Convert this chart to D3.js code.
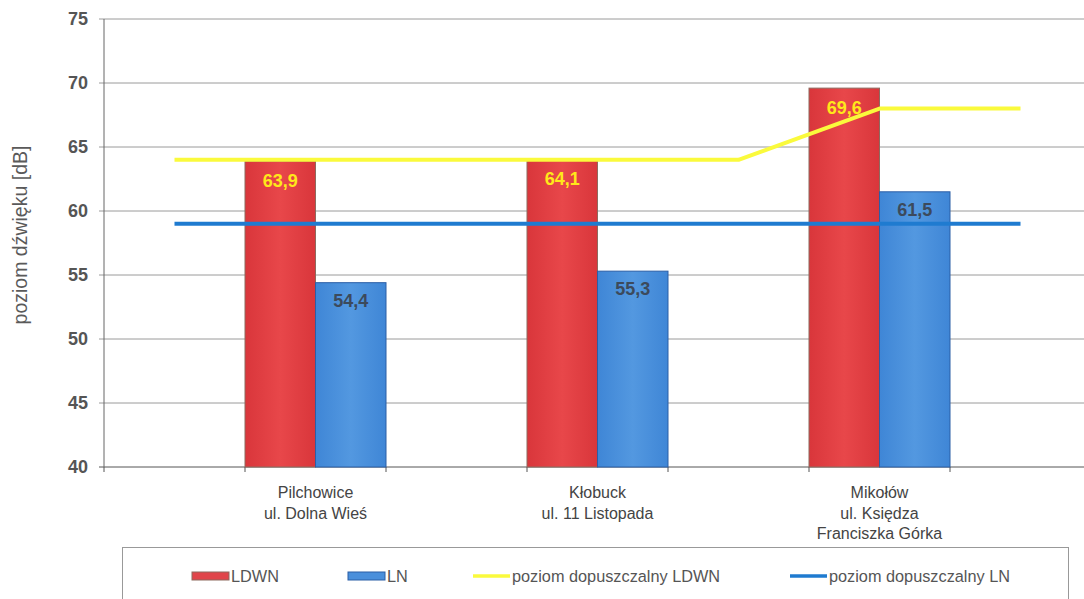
<!DOCTYPE html>
<html>
<head>
<meta charset="utf-8">
<script src="https://cdn.jsdelivr.net/npm/d3@7"></script>
<style>
  html, body { margin: 0; padding: 0; background: #fff; }
  svg { display: block; font-family: "Liberation Sans", Arial, sans-serif; }
</style>
</head>
<body>
<div id="chart"></div>
<script>
// Slots on the category axis (empty slots sit between the sites)
const categories = ['', 'Pilchowice\nul. Dolna Wieś', '', 'Kłobuck\nul. 11 Listopada', '', 'Mikołów\nul. Księdza\nFranciszka Górka', ''];
const ldwnValues = [null, 63.9, null, 64.1, null, 69.6, null];
const lnValues = [null, 54.4, null, 55.3, null, 61.5, null];
const limitLdwn = [64, 64, 64, 64, 64, 68, 68];
const limitLn = [59, 59, 59, 59, 59, 59, 59];
const yTicks = [40, 45, 50, 55, 60, 65, 70, 75];
const legendLabels = ['LDWN', 'LN', 'poziom dopuszczalny LDWN', 'poziom dopuszczalny LN'];

const width = 1084;
const height = 599;
const margin = { left: 104, top: 19, bottom: 467, right: 1091 };

const fmt = d3.formatLocale({ decimal: ',', thousands: ' ', grouping: [3], currency: ['', ' zł'] }).format('.1f');

const svg = d3.select('#chart').append('svg')
  .attr('width', width)
  .attr('height', height);

const defs = svg.append('defs');
const redGrad = defs.append('linearGradient').attr('id', 'redGrad');
redGrad.append('stop').attr('offset', '0%').attr('stop-color', '#d9363b');
redGrad.append('stop').attr('offset', '50%').attr('stop-color', '#e8474a');
redGrad.append('stop').attr('offset', '100%').attr('stop-color', '#d9363b');
const blueGrad = defs.append('linearGradient').attr('id', 'blueGrad');
blueGrad.append('stop').attr('offset', '0%').attr('stop-color', '#3f86d6');
blueGrad.append('stop').attr('offset', '50%').attr('stop-color', '#5398e0');
blueGrad.append('stop').attr('offset', '100%').attr('stop-color', '#3f86d6');

const x = d3.scaleBand()
  .domain(d3.range(categories.length))
  .range([margin.left, margin.right])
  .padding(0);

const y = d3.scaleLinear()
  .domain([40, 75])
  .range([margin.bottom, margin.top]);

const bw = x.bandwidth() / 2;

// Gridlines
svg.append('g')
  .selectAll('line')
  .data(yTicks)
  .join('line')
  .attr('x1', margin.left - 5)
  .attr('x2', margin.right)
  .attr('y1', d => y(d))
  .attr('y2', d => y(d))
  .attr('stroke', d => d === 40 ? '#555' : '#9a9a9a')
  .attr('stroke-width', 1);

// Y axis line
svg.append('line')
  .attr('x1', margin.left).attr('x2', margin.left)
  .attr('y1', margin.top).attr('y2', margin.bottom)
  .attr('stroke', '#666');

// Y tick labels
svg.append('g')
  .selectAll('text')
  .data(yTicks)
  .join('text')
  .attr('x', 88)
  .attr('y', d => y(d) + 6)
  .attr('text-anchor', 'end')
  .attr('font-size', 18)
  .attr('font-weight', 'bold')
  .attr('fill', '#555')
  .text(d => d);

// Y axis title
svg.append('text')
  .attr('transform', `translate(27,${(margin.top + margin.bottom) / 2 - 8}) rotate(-90)`)
  .attr('text-anchor', 'middle')
  .attr('font-size', 19.5)
  .attr('fill', '#5a5a5a')
  .text('poziom dźwięku [dB]');

// X tick marks at slot boundaries
svg.append('g')
  .selectAll('line')
  .data(d3.range(categories.length + 1))
  .join('line')
  .attr('x1', i => margin.left + i * x.bandwidth())
  .attr('x2', i => margin.left + i * x.bandwidth())
  .attr('y1', margin.bottom)
  .attr('y2', margin.bottom + 5)
  .attr('stroke', '#555');

// Bars
const idx = d3.range(categories.length).filter(i => ldwnValues[i] != null);

svg.append('g')
  .selectAll('rect')
  .data(idx)
  .join('rect')
  .attr('x', i => x(i))
  .attr('y', i => y(ldwnValues[i]))
  .attr('width', bw)
  .attr('height', i => y(40) - y(ldwnValues[i]))
  .attr('fill', 'url(#redGrad)')
  .attr('stroke', '#8d6a5f')
  .attr('stroke-width', 1);

svg.append('g')
  .selectAll('rect')
  .data(idx)
  .join('rect')
  .attr('x', i => x(i) + bw)
  .attr('y', i => y(lnValues[i]))
  .attr('width', bw)
  .attr('height', i => y(40) - y(lnValues[i]))
  .attr('fill', 'url(#blueGrad)')
  .attr('stroke', '#2b5ea6')
  .attr('stroke-width', 1);

// Limit lines through slot centres
const line = d3.line()
  .x((d, i) => x(i) + x.bandwidth() / 2)
  .y(d => y(d));

svg.append('path')
  .datum(limitLn)
  .attr('d', line)
  .attr('fill', 'none')
  .attr('stroke', '#1f7bd0')
  .attr('stroke-width', 4);

svg.append('path')
  .datum(limitLdwn)
  .attr('d', line)
  .attr('fill', 'none')
  .attr('stroke', '#fafa3c')
  .attr('stroke-width', 4)
  .attr('stroke-linejoin', 'round');

// Value labels
svg.append('g')
  .selectAll('text')
  .data(idx)
  .join('text')
  .attr('x', i => x(i) + bw / 2)
  .attr('y', i => y(ldwnValues[i]) + 26)
  .attr('text-anchor', 'middle')
  .attr('font-size', 18)
  .attr('font-weight', 'bold')
  .attr('fill', '#ffe81a')
  .text(i => fmt(ldwnValues[i]));

svg.append('g')
  .selectAll('text')
  .data(idx)
  .join('text')
  .attr('x', i => x(i) + bw * 1.5)
  .attr('y', i => y(lnValues[i]) + 24)
  .attr('text-anchor', 'middle')
  .attr('font-size', 18)
  .attr('font-weight', 'bold')
  .attr('fill', '#3c4a5c')
  .text(i => fmt(lnValues[i]));

// Category labels
const catG = svg.append('g');
categories.forEach((c, i) => {
  if (!c) return;
  const t = catG.append('text')
    .attr('text-anchor', 'middle')
    .attr('font-size', 16)
    .attr('fill', '#444');
  c.split('\n').forEach((ln, k) => {
    t.append('tspan')
      .attr('x', x(i) + x.bandwidth() / 2)
      .attr('y', 498 + k * 20.5)
      .text(ln);
  });
});

// Legend
svg.append('rect')
  .attr('x', 122.5).attr('y', 547.5)
  .attr('width', 946).attr('height', 80)
  .attr('fill', '#fff')
  .attr('stroke', '#999');

const legY = 576;
const legendX = [192, 348, 473, 790];
const legend = svg.append('g');
legendLabels.forEach((lab, i) => {
  const lx = legendX[i];
  if (i === 0 || i === 1) {
    legend.append('rect')
      .attr('x', lx).attr('y', legY - 4)
      .attr('width', 37).attr('height', 8)
      .attr('fill', i === 0 ? '#e0454a' : '#4a8fdb')
      .attr('stroke', i === 0 ? '#8d6a5f' : '#2b5ea6');
  } else {
    legend.append('line')
      .attr('x1', lx).attr('x2', lx + 37)
      .attr('y1', legY).attr('y2', legY)
      .attr('stroke', i === 2 ? '#fafa3c' : '#1f7bd0')
      .attr('stroke-width', 3.5);
  }
  legend.append('text')
    .attr('x', lx + 39)
    .attr('y', legY + 5.5)
    .attr('font-size', 16.3)
    .attr('fill', '#555')
    .text(lab);
});
</script>
</body>
</html>
